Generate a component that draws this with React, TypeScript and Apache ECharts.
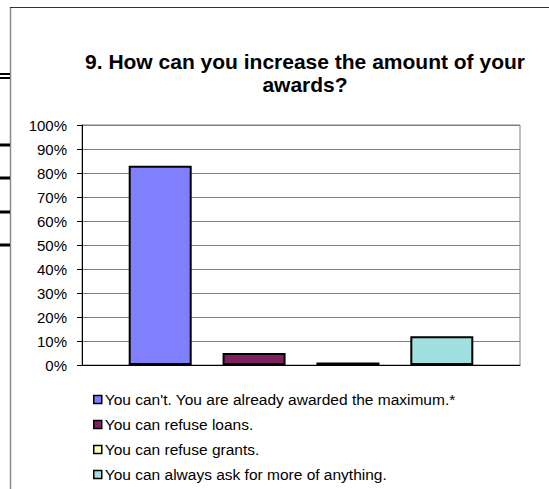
import React, { useEffect, useRef } from "react";
import * as echarts from "echarts";

const titleText = "9. How can you increase the amount of your\nawards?";
const seriesNames = [
  "You can't. You are already awarded the maximum.*",
  "You can refuse loans.",
  "You can refuse grants.",
  "You can always ask for more of anything.",
];
const seriesValues = [83, 5, 1, 12];
const seriesColors = ["#8080FF", "#802060", "#FFFFC0", "#A0E0E0"];
const yTicks = [0, 10, 20, 30, 40, 50, 60, 70, 80, 90, 100];
const sideMarksY = [74, 78, 145, 178, 212, 245];

const FONT = "'Liberation Sans', Arial, Helvetica, sans-serif";

export default function App() {
  const ref = useRef<HTMLDivElement>(null);
  useEffect(() => {
    if (!ref.current) return;
    const chart = echarts.init(ref.current, undefined, { renderer: "svg" });
    const graphics: any[] = [
      {
        type: "line",
        shape: { x1: 10.5, y1: 7, x2: 10.5, y2: 489 },
        style: { stroke: "#8a8a8a", lineWidth: 1.5 },
      },
      {
        type: "line",
        shape: { x1: 10, y1: 7.5, x2: 549, y2: 7.5 },
        style: { stroke: "#333333", lineWidth: 1 },
      },
      ...sideMarksY.map((y, i) => ({
        type: "line",
        shape: { x1: 0, y1: y, x2: 10, y2: y },
        style: { stroke: "#000", lineWidth: i < 2 ? 2 : 3 },
      })),
    ];
    chart.setOption({
      animation: false,
      backgroundColor: "#fff",
      textStyle: { fontFamily: FONT },
      title: {
        text: titleText,
        left: 300,
        top: 45,
        textAlign: "center",
        textStyle: {
          fontFamily: FONT,
          fontSize: 21,
          fontWeight: "bold",
          color: "#000",
          lineHeight: 23,
        },
      },
      grid: {
        left: 82,
        right: 29,
        top: 125,
        bottom: 124,
        show: true,
        borderColor: "#808080",
        borderWidth: 1,
      },
      legend: {
        orient: "vertical",
        left: 93,
        top: 391.5,
        height: 97,
        icon: "rect",
        itemWidth: 8,
        itemHeight: 8,
        itemGap: 9,
        padding: 0,
        data: seriesNames,
        itemStyle: { borderColor: "#000", borderWidth: 1.5 },
        textStyle: { fontFamily: FONT, fontSize: 15.5, color: "#000", padding: [0, 0, 0, -2] },
      },
      xAxis: {
        type: "category",
        data: [""],
        axisLine: { show: true, lineStyle: { color: "#000", width: 1 } },
        axisTick: { show: false },
        axisLabel: { show: false },
      },
      yAxis: {
        type: "value",
        min: yTicks[0],
        max: yTicks[yTicks.length - 1],
        interval: 10,
        axisLine: { show: true, lineStyle: { color: "#000", width: 1 } },
        axisTick: { show: true, length: 5, lineStyle: { color: "#000" } },
        axisLabel: {
          formatter: "{value}%",
          fontFamily: FONT,
          fontSize: 15,
          color: "#000",
          margin: 15,
        },
        splitLine: { show: true, lineStyle: { color: "#808080", width: 1 } },
      },
      series: seriesNames.map((name, i) => ({
        name,
        type: "bar",
        data: [seriesValues[i]],
        barWidth: 63,
        barGap: "49%",
        itemStyle: { color: seriesColors[i], borderColor: "#000", borderWidth: 2 },
      })),
      graphic: graphics,
    });
    return () => chart.dispose();
  }, []);
  return (
    <div
      ref={ref}
      style={{ position: "absolute", left: 0, top: 0, width: 549, height: 489 }}
    />
  );
}
